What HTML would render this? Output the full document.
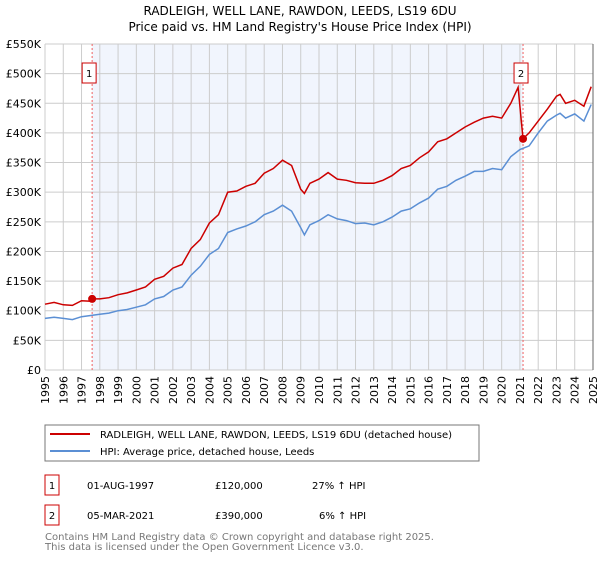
<!DOCTYPE html>
<html><head><meta charset="utf-8"><style>
body{margin:0;background:#fff;font-family:"DejaVu Sans","Liberation Sans",sans-serif;}
svg text{font-family:"DejaVu Sans","Liberation Sans",sans-serif;}
</style></head><body>
<svg id="c" width="600" height="560" xmlns="http://www.w3.org/2000/svg">
<text x="300" y="15" text-anchor="middle" font-size="12">RADLEIGH, WELL LANE, RAWDON, LEEDS, LS19 6DU</text>
<text x="300" y="31" text-anchor="middle" font-size="12">Price paid vs. HM Land Registry's House Price Index (HPI)</text>
<g id="plot"></g>
<rect x="45" y="425" width="434" height="36" fill="#fff" stroke="#777"/>
<line x1="50" y1="434" x2="90" y2="434" stroke="#cc0000" stroke-width="2"/>
<text x="100" y="438" font-size="10">RADLEIGH, WELL LANE, RAWDON, LEEDS, LS19 6DU (detached house)</text>
<line x1="50" y1="451" x2="90" y2="451" stroke="#5b8fd4" stroke-width="2"/>
<text x="100" y="455" font-size="10">HPI: Average price, detached house, Leeds</text>
<rect x="45" y="475" width="14" height="20" fill="#fff" stroke="#cc0000"/>
<text x="52" y="489" font-size="10" text-anchor="middle">1</text>
<text x="87" y="489" font-size="10">01-AUG-1997</text>
<text x="215" y="489" font-size="10">£120,000</text>
<text x="312" y="489" font-size="10">27% ↑ HPI</text>
<rect x="45" y="505" width="14" height="20" fill="#fff" stroke="#cc0000"/>
<text x="52" y="519" font-size="10" text-anchor="middle">2</text>
<text x="87" y="519" font-size="10">05-MAR-2021</text>
<text x="215" y="519" font-size="10">£390,000</text>
<text x="319" y="519" font-size="10">6% ↑ HPI</text>
<text x="45" y="540" font-size="10" fill="#777">Contains HM Land Registry data © Crown copyright and database right 2025.</text>
<text x="45" y="550" font-size="10" fill="#777">This data is licensed under the Open Government Licence v3.0.</text>
</svg>
<script>
const yTicks=[0,50,100,150,200,250,300,350,400,450,500,550];
const yTickLabels=["£0","£50K","£100K","£150K","£200K","£250K","£300K","£350K","£400K","£450K","£500K","£550K"];
const xYears=[1995,1996,1997,1998,1999,2000,2001,2002,2003,2004,2005,2006,2007,2008,2009,2010,2011,2012,2013,2014,2015,2016,2017,2018,2019,2020,2021,2022,2023,2024,2025];
const hpiT=[1995,1995.5,1996,1996.5,1997,1997.5,1998,1998.5,1999,1999.5,2000,2000.5,2001,2001.5,2002,2002.5,2003,2003.5,2004,2004.5,2005,2005.5,2006,2006.5,2007,2007.5,2008,2008.5,2009,2009.2,2009.5,2010,2010.5,2011,2011.5,2012,2012.5,2013,2013.5,2014,2014.5,2015,2015.5,2016,2016.5,2017,2017.5,2018,2018.5,2019,2019.5,2020,2020.5,2021,2021.5,2022,2022.5,2023,2023.2,2023.5,2024,2024.5,2024.9];
const hpiV=[87,89,87,85,90,92,94,96,100,102,106,110,120,124,135,140,160,175,195,205,232,238,243,250,262,268,278,268,240,228,245,252,262,255,252,247,248,245,250,258,268,272,282,290,305,310,320,327,335,335,340,338,360,372,378,400,420,430,433,425,432,420,448];
const ppT=[1995,1995.5,1996,1996.5,1997,1997.5,1997.58,1998,1998.5,1999,1999.5,2000,2000.5,2001,2001.5,2002,2002.5,2003,2003.5,2004,2004.5,2005,2005.5,2006,2006.5,2007,2007.5,2008,2008.5,2009,2009.2,2009.5,2010,2010.5,2011,2011.5,2012,2012.5,2013,2013.5,2014,2014.5,2015,2015.5,2016,2016.5,2017,2017.5,2018,2018.5,2019,2019.5,2020,2020.5,2020.9,2021.17,2021.5,2022,2022.5,2023,2023.2,2023.5,2024,2024.5,2024.9];
const ppV=[111,114,110,109,117,116,120,120,122,127,130,135,140,153,158,172,178,205,220,248,262,300,302,310,315,332,340,354,345,305,298,315,322,333,322,320,316,315,315,320,328,340,345,358,368,385,390,400,410,418,425,428,425,450,477,390,400,420,440,462,465,450,455,445,478];
const sales=[[1997.58,120,"1"],[2021.17,390,"2"]];
const X0=45,X1=593,Y0=370,Y1=44;
const xs=t=>X0+(t-1995)/30*(X1-X0);
const ys=v=>Y0-v/550*(Y0-Y1);
const NS="http://www.w3.org/2000/svg";
const g=document.getElementById('plot');
function mk(tag,attrs,name){const e=document.createElementNS(NS,tag);for(const k in attrs)e.setAttribute(k,attrs[k]);


g.appendChild(e);return e;}
mk('rect',{x:xs(sales[0][0]),y:Y1,width:xs(sales[1][0])-xs(sales[0][0]),height:Y0-Y1,fill:'#f1f5fd'},'ownership-shading');
yTicks.forEach((v,i)=>{mk('line',{x1:X0,x2:X1,y1:ys(v),y2:ys(v),stroke:'#ccc'},'y-gridline');
const t=mk('text',{x:X0-4,y:ys(v)+4,'text-anchor':'end','font-size':11},'y-tick-label');t.textContent=yTickLabels[i];});
xYears.forEach(y=>{mk('line',{x1:xs(y),x2:xs(y),y1:Y1,y2:Y0,stroke:'#ccc'},'x-gridline');
const t=mk('text',{x:0,y:0,'font-size':11,'text-anchor':'end',transform:`translate(${xs(y)+4},${Y0+6}) rotate(-90)`},'x-tick-label');t.textContent=y;});
mk('line',{x1:X1,x2:X1,y1:Y1,y2:Y0,stroke:'#666'},'plot-right-edge');
sales.forEach(s=>mk('line',{x1:xs(s[0]),x2:xs(s[0]),y1:Y1,y2:Y0,stroke:'#f06060','stroke-dasharray':'2,2'},'sale-marker-line'));
mk('path',{d:'M'+hpiT.map((t,i)=>xs(t).toFixed(1)+','+ys(hpiV[i]).toFixed(1)).join('L'),fill:'none',stroke:'#5b8fd4','stroke-width':1.5},'hpi-line');
mk('path',{d:'M'+ppT.map((t,i)=>xs(t).toFixed(1)+','+ys(ppV[i]).toFixed(1)).join('L'),fill:'none',stroke:'#cc0000','stroke-width':1.5},'property-price-line');
sales.forEach(s=>{mk('circle',{cx:xs(s[0]),cy:ys(s[1]),r:4,fill:'#cc0000'},'sale-point');
const bx=xs(s[0])-(s[2]==='1'?3:2);
mk('rect',{x:bx-7,y:63,width:14,height:20,fill:'#fff',stroke:'#cc0000'},'sale-label-box');
const t=mk('text',{x:bx,y:77,'text-anchor':'middle','font-size':10},'sale-label');t.textContent=s[2];});
</script>
</body></html>
